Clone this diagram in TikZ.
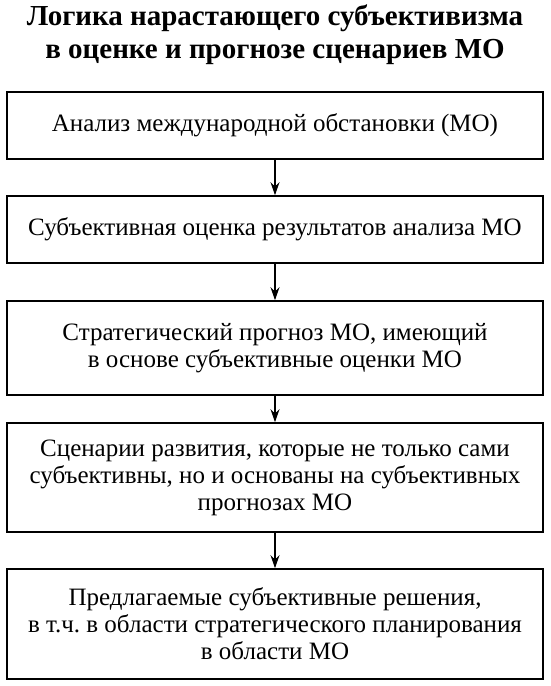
\documentclass[tikz,border=0pt]{standalone}
\usepackage{fontspec}
\setmainfont{Liberation Serif}
\usetikzlibrary{arrows.meta}
\frenchspacing
\begin{document}
\begin{tikzpicture}[x=1pt,y=1pt,
 box/.style={draw, line width=1.6pt, minimum width=536pt, align=center, font=\fontsize{25}{27}\selectfont, inner sep=0pt},
 conn/.style={-{Stealth[length=13pt,width=9pt]}, line width=1.3pt}]
\useasboundingbox (0,0) rectangle (550,-686);
\node[font=\bfseries\fontsize{29}{33}\selectfont, align=center] (title) at (275,-35) {Логика нарастающего субъективизма\\в оценке и прогнозе сценариев МО};
\node[box, minimum height=67pt] (b1) at (275,-125.5) {Анализ международной обстановки (МО)};
\node[box, minimum height=67pt] (b2) at (275,-229.5) {Субъективная оценка результатов анализа МО};
\node[box, minimum height=94pt] (b3) at (275,-348) {Стратегический прогноз МО, имеющий\\в основе субъективные оценки МО};
\node[box, minimum height=109pt] (b4) at (275,-477.5) {Сценарии развития, которые не только сами\\субъективны, но и основаны на субъективных\\прогнозах МО};
\node[box, minimum height=110pt] (b5) at (275,-624) {Предлагаемые субъективные решения,\\в т.ч. в области стратегического планирования\\в области МО};
\draw[conn] (b1) -- (b2);
\draw[conn] (b2) -- (b3);
\draw[conn] (b3) -- (b4);
\draw[conn] (b4) -- (b5);
\end{tikzpicture}
\end{document}
